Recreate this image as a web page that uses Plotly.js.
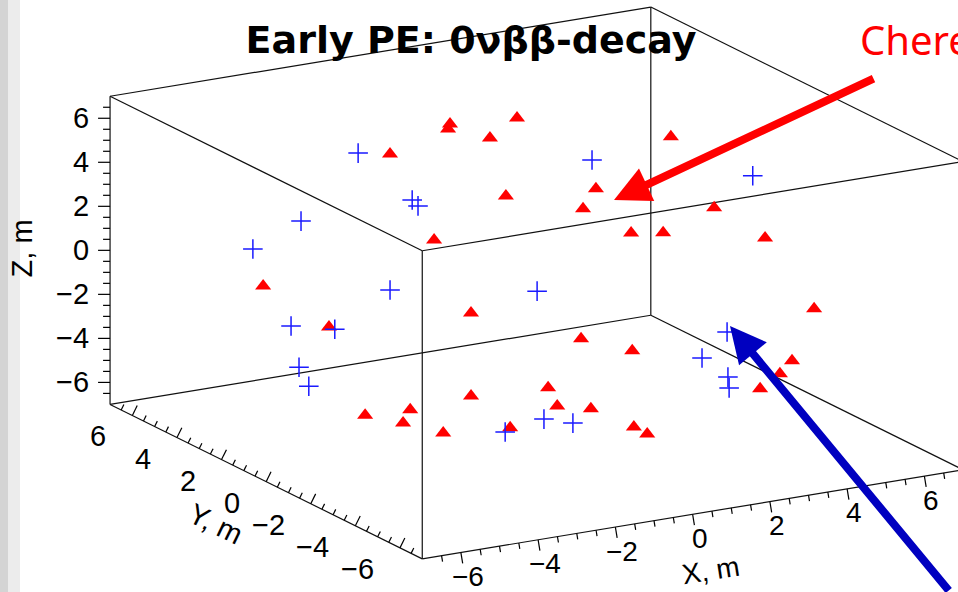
<!DOCTYPE html>
<html><head><meta charset="utf-8">
<script src="https://cdn.plot.ly/plotly-3.0.1.min.js"></script>
<style>html,body{margin:0;padding:0;background:#fff;overflow:hidden}#chart{width:958px;height:592px}</style>
</head><body><div id="chart"></div>
<script>
// Cherenkov early photo-electrons (red triangles), metres
const cherX = [-2.61,-0.11,-0.76,1.25,-0.75,-2.11,-4.09,3.87,-0.16,-0.84,2.37,-0.19,0.57,3.33,-6.27,-6.28,-4.26,-4.94,-5.02,-4.72,-4.05,-4.34,-3.27,-2.30,-1.20,4.45,4.08,3.83,3.30,-2.98,-2.68,-1.93,-0.54,0.25];
const cherY = [2.05,3.69,2.65,3.04,0.79,-2.28,-2.49,0.68,-2.94,-3.54,-3.86,-4.57,-4.69,-4.48,1.40,-1.57,-4.44,-0.87,-3.03,-2.19,-2.83,-4.58,-4.48,-5.98,-6.37,-4.74,-4.39,-4.28,-4.31,-5.68,-5.57,-5.78,-5.30,-4.53];
const cherZ = [5.59,5.41,5.89,5.61,6.41,5.71,4.39,5.18,5.80,5.39,4.67,4.62,4.47,3.33,0.98,0.61,2.10,-4.14,-2.79,-3.90,-4.23,-1.58,-3.39,1.13,0.46,-0.08,-2.51,-3.09,-3.60,-1.05,-2.02,-2.26,-3.73,-4.66];
// Scintillation early photo-electrons (blue crosses), metres
const scinX = [-2.35,-3.71,-3.75,-5.22,-5.30,0.49,4.83,-5.34,-6.50,-2.51,-6.19,-5.44,-3.26,2.74,5.17,4.40,4.17,3.82,0.40,0.78];
const scinY = [3.93,-0.85,-1.18,1.52,3.54,-1.64,-1.33,-2.68,-0.25,4.70,-0.07,0.79,-4.24,4.72,0.41,0.20,-1.36,-2.02,0.36,-0.28];
const scinZ = [4.61,5.27,5.18,3.56,1.30,6.27,4.14,2.57,0.05,-3.73,-2.00,-3.51,-3.70,-3.53,-3.93,-4.78,-4.80,-4.86,-6.48,-6.45];
const tickVals = [-6,-4,-2,0,2,4,6];
const tickLabels = ['\u22126','\u22124','\u22122','0','2','4','6'];
const axisRange = [-7,7];
const axisTitles = {x:'X, m', y:'Y, m', z:'Z, m'};
const titleText = 'Early PE: 0\u03bd\u03b2\u03b2-decay';
const noteText = 'Cherenkov';

// ---- 3D view (oblique parallel projection, as in the ROOT canvas) ----
const view = {azimuth:240, elevation:16.6, zScale:0.515};
const A = view.azimuth*Math.PI/180, E = view.elevation*Math.PI/180;
function proj(x,y,z){
  return [-Math.sin(A)*x + Math.cos(A)*y,
          -Math.sin(E)*Math.cos(A)*x - Math.sin(E)*Math.sin(A)*y + Math.cos(E)*view.zScale*z];
}
const uRange = [-12.03, 9.45];
const PX = 958/(uRange[1]-uRange[0]);
const vTop = 6.345;
const vRange = [vTop - 592/PX, vTop];

function projAll(X,Y,Z){const u=[],v=[];X.forEach((x,i)=>{const p=proj(x,Y[i],Z[i]);u.push(p[0]);v.push(p[1]);});return {u,v};}

// ---- box edges ----
const lo = axisRange[0], hi = axisRange[1];
const ex=[], ey=[];
function seg(a,b){const p=proj(...a), q=proj(...b); ex.push(p[0],q[0],null); ey.push(p[1],q[1],null);}
[lo,hi].forEach(s=>[lo,hi].forEach(t=>{
  seg([lo,s,t],[hi,s,t]); seg([s,lo,t],[s,hi,t]); seg([s,t,lo],[s,t,hi]);
}));

// ---- axis ticks ----
const tx=[], ty=[];
const annotations = [];
const tickFont = {family:'Liberation Sans, Arial, sans-serif', size:29, color:'#000'};
const titleFont = {family:'Liberation Sans, Arial, sans-serif', size:29, color:'#000'};
function norm(p){const l=Math.hypot(p[0],p[1]);return [p[0]/l,p[1]/l];}
function drawAxis(pos, nrm, majLen, minLen, lblOff, xanchor, titleOff, titleAngle, title, fontSize){
  const tf = Object.assign({}, tickFont, fontSize?{size:fontSize}:{});
  const ttf = Object.assign({}, titleFont, fontSize?{size:fontSize}:{});
  for(let t=lo+0.5; t<hi-0.01; t+=0.5){
    const major = tickVals.indexOf(t) >= 0;
    const p = pos(t), L = (major?majLen:minLen)/PX;
    tx.push(p[0], p[0]+nrm[0]*L, null); ty.push(p[1], p[1]+nrm[1]*L, null);
  }
  tickVals.forEach((t,i)=>{
    const p = pos(t);
    annotations.push({xref:'x', yref:'y', x:p[0]+lblOff[0]/PX, y:p[1]-lblOff[1]/PX,
      text:tickLabels[i], showarrow:false, xanchor:xanchor, yanchor:'middle', font:tf, borderpad:0});
  });
  const p0 = pos(0);
  annotations.push({xref:'x', yref:'y', x:p0[0]+titleOff[0]/PX, y:p0[1]-titleOff[1]/PX,
    text:title, showarrow:false, xanchor:'center', yanchor:'middle', textangle:titleAngle, font:ttf, borderpad:0});
}
const dX = norm(proj(1,0,0)), dY = norm(proj(0,1,0));
drawAxis(t=>proj(t,lo,lo), [dX[1],-dX[0]], 11, 6, [7,24], 'center', [18,56], -9, axisTitles.x, 28);
drawAxis(t=>proj(lo,t,lo), [dY[1],-dY[0]], 11, 6, [-25,21], 'right', [-50,42], 26, axisTitles.y);
drawAxis(t=>proj(lo,hi,t), [-1,0], 12, 7, [-20,0], 'right', [-88,-2], -90, axisTitles.z);

const cher = projAll(cherX,cherY,cherZ), scin = projAll(scinX,scinY,scinZ);
const traces = [
  {type:'scatter', mode:'lines', x:ex, y:ey, line:{color:'#111', width:1.2}, hoverinfo:'skip'},
  {type:'scatter', mode:'lines', x:tx, y:ty, line:{color:'#000', width:1.2}, hoverinfo:'skip'},
  {type:'scatter', mode:'markers', name:'Cherenkov', x:cher.u, y:cher.v, cliponaxis:false,
   marker:{symbol:'triangle-up', size:14, color:'#ff0000', line:{width:0}}},
  {type:'scatter', mode:'markers', name:'Scintillation', x:scin.u, y:scin.v, cliponaxis:false,
   marker:{symbol:'cross-thin', size:14, color:'#1a1aff', line:{width:1.5, color:'#1a1aff'}}}
];
annotations.push(
  {xref:'paper', yref:'paper', x:858/958, y:1-40/592, xanchor:'left', yanchor:'middle',
   text:noteText, showarrow:false, font:{family:'Noto Sans', size:40, color:'#ff0000'}},
  {xref:'paper', yref:'paper', x:614/958, y:1-200/592, text:'', showarrow:true,
   ax:261, ay:-122, arrowcolor:'#ff0000', arrowwidth:8, arrowhead:2, arrowsize:0.9, standoff:0},
  {xref:'paper', yref:'paper', x:730/958, y:1-326/592, text:'', showarrow:true,
   ax:220, ay:274, arrowcolor:'#0000c0', arrowwidth:8, arrowhead:2, arrowsize:0.9, standoff:0}
);
const layout = {
  width:958, height:592, margin:{l:0,r:0,t:0,b:0}, showlegend:false,
  paper_bgcolor:'#fff', plot_bgcolor:'#fff',
  title:{text:titleText, x:471/958, xanchor:'center', y:1-40/592, yanchor:'middle',
    font:{family:'DejaVu Sans', size:38, color:'#000', weight:'bold'}},
  xaxis:{range:uRange, visible:false, fixedrange:true},
  yaxis:{range:vRange, visible:false, fixedrange:true},
  annotations:annotations,
  shapes:[
    {type:'rect', xref:'paper', yref:'paper', x0:0, x1:8/958, y0:0, y1:1, fillcolor:'#d4d4d4', line:{width:0}, layer:'below'},
    {type:'rect', xref:'paper', yref:'paper', x0:8/958, x1:20/958, y0:0, y1:1, fillcolor:'#ececec', line:{width:0}, layer:'below'}
  ]
};
Plotly.newPlot('chart', traces, layout, {displayModeBar:false, staticPlot:true});
</script></body></html>
